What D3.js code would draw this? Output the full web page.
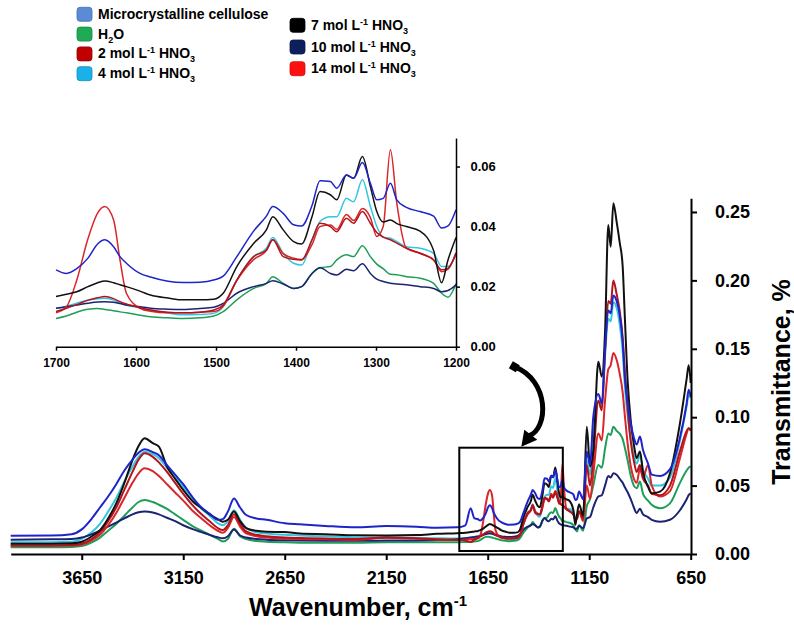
<!DOCTYPE html>
<html><head><meta charset="utf-8">
<script src="https://cdn.jsdelivr.net/npm/d3@7"></script>
<style>
body{margin:0;background:#fff}
svg{display:block}
text{font-family:Arial,"Liberation Sans",sans-serif;font-weight:bold;fill:#000}
</style>
</head><body><svg id="c" width="794" height="632"></svg>
<script>
// ---------- DATA ----------
const wavenumbers = [
 4000,3800,3700,3650,3600,3560,3520,3480,3440,3400,3370,3340,3300,3270,3230,3190,3150,3100,3060,3020,
 2980,2955,2930,2900,2870,2840,2790,2740,2650,2575,2450,2300,2150,2000,1900,1800,1760,1734,1715,
 1700,1687,1674,1660,1648,1639,1628,1620,1612,1595,1582,1560,1541,1520,1503,1491,1474,1453,1437,1429,
 1416,1403,1393,1380,1370,1357,1349,1337,1328,1317,1307,1299,1291,1282,1274,1262,1245,1228,1218,1210,1200,
 1180,1162,1146,1130,1105,1088,1072,1056,1044,1031,1015,1000,985,975,960,945,930,916,900,885,860,842,801,752,703,670,660,650];

const mcc = [
 0.0133,0.0135,0.0145,0.018,0.026,0.034,0.042,0.051,0.061,0.069,0.074,0.0765,0.0745,0.0722,0.065,0.058,0.051,0.0407,0.034,0.0295,
 0.025,0.0255,0.031,0.0405,0.034,0.0285,0.026,0.025,0.0225,0.0217,0.0205,0.0195,0.0205,0.020,0.0192,0.0195,0.021,0.0334,0.026,
 0.0256,0.0244,0.026,0.0295,0.0342,0.0356,0.0333,0.030,0.0278,0.0244,0.0232,0.0218,0.0214,0.0215,0.0222,0.0235,0.030,0.0385,0.0435,0.0467,
 0.0444,0.0406,0.0402,0.047,0.0553,0.055,0.0528,0.0572,0.0561,0.0613,0.0544,0.0489,0.0494,0.0544,0.0489,0.0464,0.045,0.0435,0.0395,0.0402,0.0456,
 0.040,0.075,0.065,0.100,0.117,0.110,0.150,0.178,0.176,0.189,0.185,0.175,0.155,0.130,0.110,0.095,0.085,0.080,0.0858,0.076,0.066,0.058,0.057,0.062,0.085,0.110,0.120,0.115];

const h2o = [
 0.005,0.005,0.0052,0.0058,0.0085,0.012,0.017,0.022,0.028,0.034,0.038,0.0395,0.038,0.036,0.033,0.029,0.025,0.020,0.017,0.014,
 0.011,0.0092,0.011,0.0185,0.013,0.011,0.0095,0.009,0.0085,0.0083,0.0082,0.0082,0.0085,0.0085,0.0085,0.0085,0.0088,0.009,0.0092,
 0.0094,0.0102,0.0115,0.0125,0.0127,0.0124,0.012,0.0116,0.0113,0.0105,0.010,0.0096,0.0094,0.0096,0.0102,0.0117,0.0156,0.0194,0.0211,0.0233,
 0.0211,0.0194,0.020,0.0244,0.0263,0.0267,0.0289,0.0306,0.030,0.0336,0.030,0.0275,0.026,0.0241,0.024,0.0233,0.0228,0.0211,0.0178,0.0165,0.021,
 0.017,0.035,0.04,0.05,0.065,0.063,0.077,0.088,0.087,0.093,0.09,0.088,0.084,0.078,0.068,0.057,0.05,0.048,0.053,0.044,0.039,0.036,0.0334,0.037,0.052,0.061,0.063,0.064];

const hno3_2 = [
 0.0062,0.0062,0.0065,0.0075,0.011,0.016,0.024,0.034,0.047,0.060,0.069,0.0736,0.071,0.067,0.060,0.052,0.044,0.035,0.029,0.024,
 0.019,0.0175,0.021,0.029,0.022,0.0165,0.014,0.013,0.012,0.0117,0.0113,0.011,0.012,0.0115,0.0108,0.0103,0.0098,0.0088,0.0105,
 0.0117,0.0128,0.014,0.0155,0.0163,0.0167,0.016,0.015,0.0142,0.013,0.0122,0.0115,0.0113,0.0115,0.0122,0.0139,0.0222,0.030,0.0322,0.0356,
 0.030,0.0291,0.0289,0.0356,0.0411,0.040,0.0383,0.0428,0.0411,0.045,0.0411,0.038,0.0365,0.0356,0.0345,0.0328,0.0311,0.0289,0.0256,0.0261,0.0313,
 0.026,0.065,0.05,0.07,0.112,0.105,0.148,0.185,0.183,0.200,0.19,0.178,0.158,0.135,0.105,0.082,0.068,0.06,0.065,0.055,0.05,0.044,0.043,0.05,0.075,0.09,0.092,0.09];

const hno3_4 = [
 0.0085,0.0086,0.009,0.011,0.016,0.022,0.031,0.041,0.053,0.064,0.071,0.0748,0.073,0.070,0.063,0.056,0.049,0.040,0.033,0.028,
 0.0225,0.021,0.024,0.032,0.025,0.019,0.016,0.015,0.014,0.0135,0.013,0.012,0.012,0.0118,0.0115,0.0113,0.0115,0.012,0.0125,
 0.0128,0.0135,0.0145,0.0155,0.016,0.0161,0.0155,0.0145,0.0138,0.013,0.0122,0.0112,0.0106,0.0107,0.0111,0.0133,0.0222,0.030,0.0328,0.0364,
 0.0311,0.0278,0.0272,0.0356,0.0417,0.0433,0.0433,0.0494,0.0483,0.0556,0.0467,0.040,0.0365,0.0361,0.035,0.0333,0.0328,0.0311,0.0267,0.0267,0.0306,
 0.03,0.068,0.058,0.085,0.112,0.106,0.145,0.172,0.17,0.184,0.18,0.168,0.148,0.124,0.1,0.083,0.072,0.066,0.072,0.062,0.055,0.05,0.05,0.056,0.083,0.108,0.116,0.114];

const hno3_7 = [
 0.0075,0.0075,0.0078,0.009,0.013,0.0175,0.026,0.037,0.052,0.0687,0.079,0.0846,0.081,0.0785,0.0638,0.055,0.0468,0.038,0.0335,0.029,
 0.0255,0.0236,0.025,0.031,0.024,0.019,0.017,0.0163,0.016,0.015,0.0145,0.0137,0.0135,0.0138,0.0148,0.0152,0.0155,0.016,0.0165,
 0.0167,0.0175,0.0183,0.020,0.0213,0.0219,0.0213,0.0206,0.020,0.0185,0.0172,0.0162,0.0156,0.0156,0.0158,0.0178,0.0267,0.0344,0.0389,0.0433,
 0.0389,0.035,0.0342,0.0433,0.0517,0.0506,0.0489,0.0572,0.0561,0.0633,0.0533,0.045,0.0415,0.0422,0.041,0.040,0.0385,0.032,0.0213,0.0289,0.0364,
 0.028,0.093,0.064,0.075,0.1406,0.1296,0.162,0.2405,0.2246,0.2564,0.243,0.228,0.21,0.175,0.125,0.097,0.08,0.07,0.075,0.06,0.049,0.0444,0.0456,0.059,0.0955,0.128,0.138,0.125];

const hno3_10 = [
 0.0105,0.0107,0.011,0.012,0.0145,0.017,0.020,0.023,0.026,0.029,0.0305,0.031,0.0303,0.029,0.0265,0.024,0.021,0.018,0.016,0.014,
 0.0122,0.0115,0.013,0.018,0.0135,0.012,0.011,0.0105,0.010,0.0098,0.0097,0.0097,0.0098,0.0099,0.0102,0.0108,0.0115,0.012,0.0125,
 0.0128,0.0133,0.0139,0.0145,0.0149,0.015,0.0148,0.0144,0.0139,0.0133,0.0128,0.0125,0.0124,0.0127,0.0131,0.0144,0.0178,0.020,0.0211,0.022,
 0.0209,0.0194,0.020,0.0244,0.0263,0.0244,0.0239,0.0258,0.0253,0.0276,0.0244,0.0225,0.0217,0.0211,0.0209,0.0206,0.020,0.0194,0.0183,0.0187,0.0206,
 0.019,0.026,0.027,0.034,0.042,0.043,0.05,0.057,0.056,0.059,0.058,0.055,0.052,0.049,0.045,0.04,0.034,0.03,0.033,0.029,0.027,0.025,0.0236,0.025,0.032,0.04,0.043,0.0444];

const hno3_14 = [
 0.006,0.006,0.0062,0.007,0.010,0.014,0.021,0.030,0.041,0.052,0.059,0.0626,0.0605,0.057,0.051,0.045,0.039,0.031,0.026,0.021,
 0.017,0.0155,0.019,0.027,0.020,0.015,0.013,0.012,0.0113,0.011,0.0108,0.0105,0.0118,0.0112,0.0105,0.0102,0.0105,0.011,0.0112,
 0.0113,0.0133,0.0222,0.036,0.0445,0.0467,0.0422,0.0289,0.0178,0.0128,0.0118,0.0113,0.0113,0.0115,0.0117,0.0135,0.022,0.029,0.032,0.0356,
 0.031,0.0295,0.029,0.034,0.040,0.0405,0.039,0.044,0.042,0.046,0.043,0.0367,0.040,0.0656,0.0478,0.0328,0.0311,0.0289,0.025,0.0258,0.0311,
 0.024,0.05,0.04,0.058,0.088,0.083,0.112,0.135,0.138,0.147,0.142,0.132,0.118,0.102,0.08,0.064,0.055,0.052,0.0626,0.056,0.065,0.05,0.042,0.046,0.07,0.088,0.092,0.091];

const seriesNames = ["Microcrystalline cellulose","H2O","2 mol L-1 HNO3","4 mol L-1 HNO3","7 mol L-1 HNO3","10 mol L-1 HNO3","14 mol L-1 HNO3"];
const lineColors = ["#1f24c8","#1e9e58","#b3141b","#33c6e0","#111111","#1c2373","#d9262b"];
const legendColors = ["#5b8bd6","#1faa55","#c00000","#1ab0e8","#000000","#0d1f5c","#ff1010"];
const legendLabels = [
 [["Microcrystalline cellulose"]],
 [["H"],["2","sub"],["O"]],
 [["2 mol L"],["-1","sup"],[" HNO"],["3","sub"]],
 [["4 mol L"],["-1","sup"],[" HNO"],["3","sub"]],
 [["7 mol L"],["-1","sup"],[" HNO"],["3","sub"]],
 [["10 mol L"],["-1","sup"],[" HNO"],["3","sub"]],
 [["14 mol L"],["-1","sup"],[" HNO"],["3","sub"]]
];
const mainXTicks = [3650,3150,2650,2150,1650,1150,650];
const mainYTicks = [0,0.05,0.10,0.15,0.20,0.25];
const insetXTicks = [1700,1600,1500,1400,1300,1200];
const insetYTicks = [0,0.02,0.04,0.06];
const zoomBox = {wnFrom:1790, wnTo:1280, vLow:0.0022, vHigh:0.0777};
const drawOrder = [3,1,5,6,2,4,0];

// ---------- CHART ----------
const allSeries = [mcc,h2o,hno3_2,hno3_4,hno3_7,hno3_10,hno3_14];
const svg = d3.select("#c");

const x = d3.scaleLinear().domain([4000,650]).range([10.7,690.7]);
const y = d3.scaleLinear().domain([0,0.26]).range([554,198.3]);

const xi = d3.scaleLinear().domain([1700,1200]).range([56,456]);
const yi = d3.scaleLinear().domain([0,0.0695]).range([346.7,138]);

const pts = vals => wavenumbers.map((w,i)=>({w, v:vals[i]}));

// main lines
const lineMain = d3.line().x(d=>x(d.w)).y(d=>y(d.v)).curve(d3.curveMonotoneX);
const gMain = svg.append("g");
drawOrder.forEach(k=>{
  gMain.append("path").datum(pts(allSeries[k]))
    .attr("d",lineMain).attr("fill","none")
    .attr("stroke",lineColors[k]).attr("stroke-width",2).attr("stroke-linejoin","round");
});

// main axes
const xAxis = svg.append("g").attr("transform","translate(0,554)")
  .call(d3.axisBottom(x).tickValues(mainXTicks).tickFormat(d3.format("d")).tickSize(6).tickSizeOuter(0));
xAxis.select(".domain").attr("stroke","#000").attr("stroke-width",2);
xAxis.selectAll(".tick line").attr("stroke","#000").attr("stroke-width",2);
xAxis.selectAll(".tick text").attr("y",17).attr("font-size",18).attr("font-family","Arial, 'Liberation Sans', sans-serif").attr("font-weight","bold").attr("fill","#000");

const yAxis = svg.append("g").attr("transform","translate(691,0)")
  .call(d3.axisRight(y).tickValues(mainYTicks).tickFormat(d3.format(".2f")).tickSize(6).tickSizeOuter(0));
yAxis.select(".domain").attr("stroke","#000").attr("stroke-width",2);
yAxis.selectAll(".tick line").attr("stroke","#000").attr("stroke-width",2);
yAxis.selectAll(".tick text").attr("x",24).attr("font-size",18).attr("font-family","Arial, 'Liberation Sans', sans-serif").attr("font-weight","bold").attr("fill","#000");

// axis titles
const xt = svg.append("text").attr("x",358).attr("y",616).attr("text-anchor","middle").attr("font-size",25);
xt.append("tspan").text("Wavenumber, cm");
xt.append("tspan").attr("font-size",15).attr("dy",-10).text("-1");

svg.append("text").attr("transform","translate(790,382) rotate(-90)")
  .attr("text-anchor","middle").attr("font-size",25).text("Transmittance, %");

// zoom box
const bx0 = x(zoomBox.wnFrom), bx1 = x(zoomBox.wnTo), by0 = y(zoomBox.vHigh), by1 = y(zoomBox.vLow);
svg.append("rect").attr("x",bx0).attr("y",by0).attr("width",bx1-bx0).attr("height",by1-by0)
  .attr("fill","none").attr("stroke","#000").attr("stroke-width",2);

// curved arrow
const ax0 = bx0+55, ay0 = by0-81, ax1 = bx0+64, ay1 = by0-4;
svg.append("path")
  .attr("d",`M${ax0},${ay0} C${ax0+36},${ay0+14} ${ax0+34},${ay0+62} ${ax1+6},${ay1-8}`)
  .attr("fill","none").attr("stroke","#000").attr("stroke-width",5).attr("stroke-linecap","square");
svg.append("path")
  .attr("d",`M${ax1-2},${ay1+3} L${ax1+1},${ay1-14} L${ax1+14},${ay1-4} Z`)
  .attr("fill","#000");
svg.append("rect").attr("x",ax0-4).attr("y",ay0-4).attr("width",8).attr("height",8)
  .attr("transform",`rotate(30,${ax0},${ay0})`).attr("fill","#000");

// inset
const insetData = k => pts(allSeries[k]).filter(d=>d.w<=1700 && d.w>=1200);
const lineInset = d3.line().x(d=>xi(d.w)).y(d=>yi(d.v)).curve(d3.curveMonotoneX);
const gIn = svg.append("g");
drawOrder.forEach(k=>{
  gIn.append("path").datum(insetData(k))
    .attr("d",lineInset).attr("fill","none")
    .attr("stroke",lineColors[k]).attr("stroke-width",1.5).attr("stroke-linejoin","round");
});
const xiAxis = svg.append("g").attr("transform","translate(0,346.7)")
  .call(d3.axisBottom(xi).tickValues(insetXTicks).tickFormat(d3.format("d")).tickSize(4).tickSizeOuter(0));
xiAxis.select(".domain").attr("stroke","#000").attr("stroke-width",1.5);
xiAxis.selectAll(".tick line").attr("stroke","#000").attr("stroke-width",1.5);
xiAxis.selectAll(".tick text").attr("y",11.5).attr("font-size",12).attr("font-family","Arial, 'Liberation Sans', sans-serif").attr("font-weight","bold").attr("fill","#000");

const yiAxis = svg.append("g").attr("transform","translate(456,0)")
  .call(d3.axisRight(yi).tickValues(insetYTicks).tickFormat(d3.format(".2f")).tickSize(4).tickSizeOuter(0));
yiAxis.select(".domain").attr("stroke","#000").attr("stroke-width",1.5);
yiAxis.selectAll(".tick line").attr("stroke","#000").attr("stroke-width",1.5);
yiAxis.selectAll(".tick text").attr("x",14.5).attr("font-size",13).attr("font-family","Arial, 'Liberation Sans', sans-serif").attr("font-weight","bold").attr("fill","#000");

// legend
const legendPos = seriesNames.map((n,i)=> i<4 ? {x:77, top:7.3+i*19.8} : {x:290, top:18.3+(i-4)*21.7});
legendPos.forEach((p,i)=>{
  const g = svg.append("g");
  g.append("rect").attr("x",p.x).attr("y",p.top).attr("width",15).attr("height",14).attr("rx",3)
    .attr("fill",legendColors[i]).attr("stroke",d3.color(legendColors[i]).darker(0.6)).attr("stroke-width",0.8);
  const t = g.append("text").attr("x",p.x+21).attr("y",p.top+11.5).attr("font-size",14);
  let shift = 0;
  legendLabels[i].forEach(seg=>{
    const ts = t.append("tspan").text(seg[0]);
    let target = 0;
    if (seg[1]==="sup") { target = -5; ts.attr("font-size",9); }
    if (seg[1]==="sub") { target = 4; ts.attr("font-size",9); }
    ts.attr("dy", target-shift);
    shift = target;
  });
});
</script>
</body></html>
